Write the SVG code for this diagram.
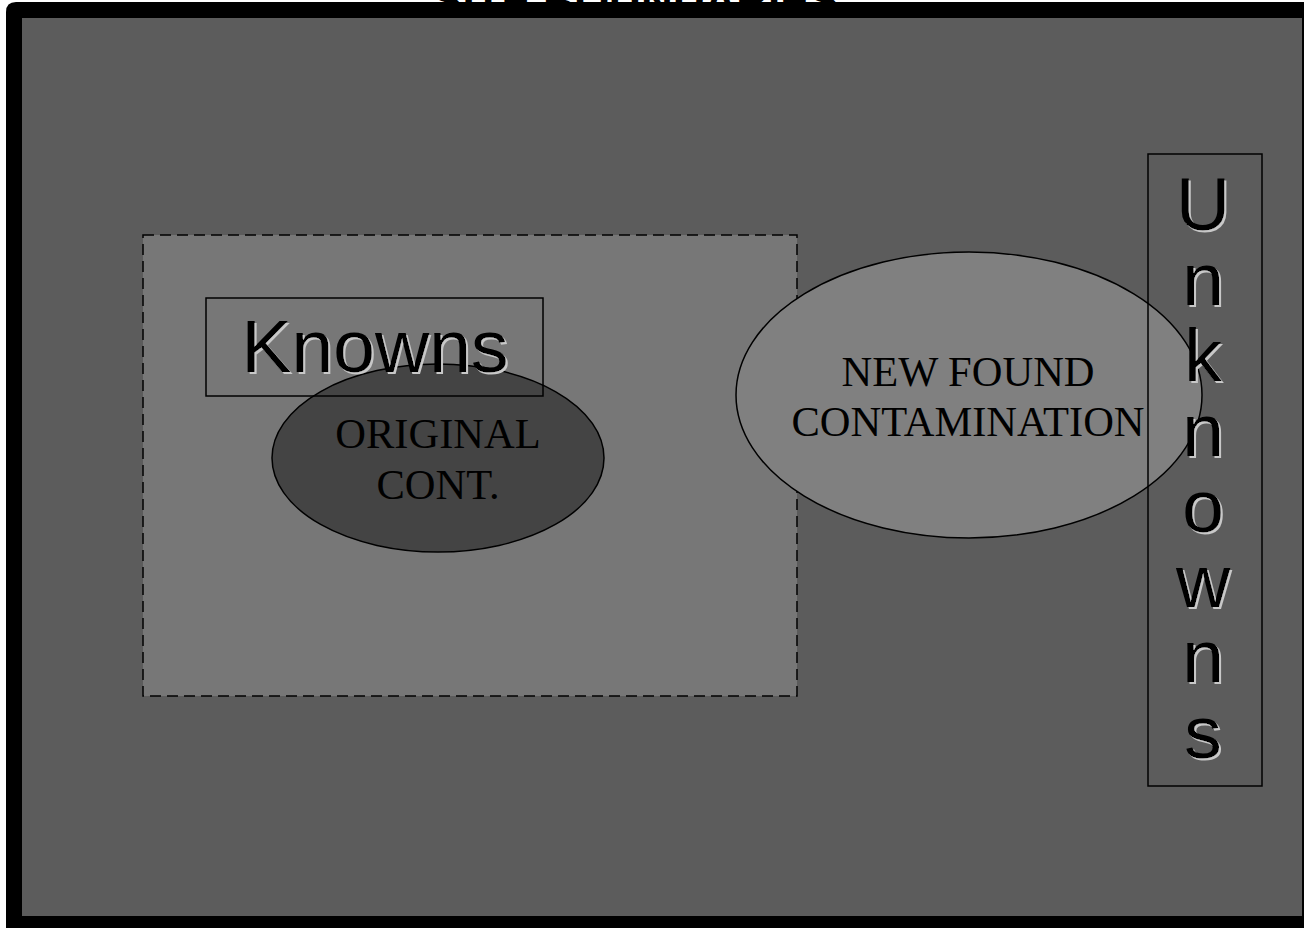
<svg xmlns="http://www.w3.org/2000/svg" width="1304" height="928" viewBox="0 0 1304 928">
<defs>
<filter id="shadow" x="-10%" y="-10%" width="130%" height="130%">
<feOffset in="SourceAlpha" dx="2" dy="2" result="off"/>
<feFlood flood-color="#c8c8c8"/>
<feComposite in2="off" operator="in" result="sh"/>
<feMerge><feMergeNode in="sh"/><feMergeNode in="SourceGraphic"/></feMerge>
</filter>
</defs>
<style>
.serif{font-family:"Liberation Serif","Times New Roman",serif;font-size:42.5px;fill:#000;text-anchor:middle}
.sans{font-family:"Liberation Sans",Arial,sans-serif;font-size:75px;text-anchor:middle;fill:#000}
.line{fill:none;stroke:#000;stroke-width:1.5}
</style>
<rect width="1304" height="928" fill="#fff"/>
<g id="title">
<text x="636" y="16" font-family="Liberation Sans, Arial, sans-serif" font-size="44" font-weight="bold" text-anchor="middle" fill="#000">SITE BOUNDARIES</text>
</g>
<g id="frame">
<path d="M6 928 V12 Q6 2 16 2 H1304 V928 Z" fill="#000"/>
<rect x="22" y="18" width="1280" height="898" fill="#5c5c5c"/>
</g>
<g id="knowns-area">
<rect x="143" y="235" width="654" height="461" fill="#777" stroke="#000" stroke-width="1.5" stroke-dasharray="11,6"/>
</g>
<g id="original">
<ellipse cx="438" cy="458" rx="166" ry="94" fill="#444" stroke="#000" stroke-width="1.5"/>
<text class="serif" x="438" y="448">ORIGINAL</text>
<text class="serif" x="438" y="499">CONT.</text>
</g>
<g id="knowns">
<rect class="line" x="206" y="298" width="337" height="98"/>
<text class="sans" x="375" y="372" filter="url(#shadow)">Knowns</text>
</g>
<g id="new-found">
<ellipse cx="969" cy="395" rx="233" ry="143" fill="#808080" stroke="#000" stroke-width="1.5"/>
<text class="serif" x="968" y="386">NEW FOUND</text>
<text class="serif" x="968" y="436">CONTAMINATION</text>
</g>
<g id="unknowns">
<rect class="line" x="1148" y="154" width="114" height="632"/>
<g class="sans" filter="url(#shadow)">
<text x="1203" y="230">U</text>
<text x="1203" y="305.4">n</text>
<text x="1203" y="380.8">k</text>
<text x="1203" y="456.2">n</text>
<text x="1203" y="531.6">o</text>
<text x="1203" y="607">w</text>
<text x="1203" y="682.4">n</text>
<text x="1203" y="757.8">s</text>
</g>
</g>
<g id="connectors"></g>
</svg>
